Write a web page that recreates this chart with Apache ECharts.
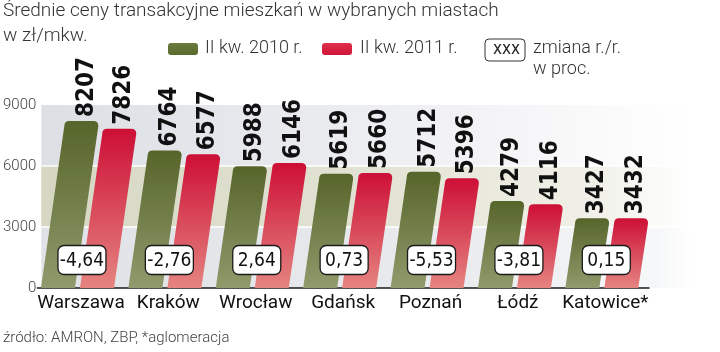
<!DOCTYPE html>
<html>
<head>
<meta charset="utf-8">
<script src="https://cdn.jsdelivr.net/npm/echarts@6/dist/echarts.min.js"></script>
<style>
  html, body { margin: 0; padding: 0; background: #fff; }
  #main { width: 720px; height: 352px; }
</style>
</head>
<body>
<div id="main"></div>
<script>
// dane
var cities = ['Warszawa', 'Kraków', 'Wrocław', 'Gdańsk', 'Poznań', 'Łódź', 'Katowice*'];
var q2010 = [8207, 6764, 5988, 5619, 5712, 4279, 3427];
var q2011 = [7826, 6577, 6146, 5660, 5396, 4116, 3432];
var change = [-4.64, -2.76, 2.64, 0.73, -5.53, -3.81, 0.15];
var yTicks = [0, 3000, 6000, 9000];

var narrow = "'Liberation Sans Narrow', 'DejaVu Sans Condensed', Roboto, sans-serif";
var light = "Roboto, 'Noto Sans', sans-serif";

var SLANT = 0.14, BAR_W = 34;

function hGrad(stops) {
    return {
        type: 'linear', x: 0, y: 0, x2: 1, y2: 0,
        colorStops: stops.map(function (s) { return { offset: s[0], color: s[1] }; })
    };
}
function vGrad(top, bottom) {
    return {
        type: 'linear', x: 0, y: 0, x2: 0, y2: 1,
        colorStops: [{ offset: 0, color: top }, { offset: 1, color: bottom }]
    };
}

// tło w pasach 0-3000-6000-9000
function renderBg(params, api) {
    var cs = params.coordSys;
    var x0 = cs.x + 4, x1 = cs.x + cs.width + 42;
    var ys = yTicks.map(function (v) { return api.coord([0, v])[1]; });
    var bandColors = [
        hGrad([[0, '#dfe2e6'], [0.6, '#e8eaed'], [0.95, '#f6f7f8'], [1, '#ffffff']]),
        hGrad([[0, '#d6d7c3'], [0.5, '#e2e2d3'], [0.85, '#f0f0e8'], [1, '#ffffff']]),
        hGrad([[0, '#dcdfe4'], [0.4, '#e8eaee'], [0.75, '#f6f6f8'], [1, '#ffffff']])
    ];
    var children = [];
    for (var i = 0; i < 3; i++) {
        children.push({
            type: 'rect',
            shape: { x: x0, y: ys[i + 1], width: x1 - x0, height: ys[i] - ys[i + 1] },
            style: { fill: bandColors[i] }
        });
    }
    for (var j = 1; j < 3; j++) {
        children.push({
            type: 'line',
            shape: { x1: x0, y1: ys[j], x2: x1, y2: ys[j] },
            style: { stroke: '#ffffff', lineWidth: 1.5 }
        });
    }
    return { type: 'group', children: children };
}

// pochylony słupek z zaokrąglonym wierzchołkiem
function barRenderer(offset, colTop, colBottom) {
    return function (params, api) {
        var base = api.coord([api.value(0), 0]);
        var top = api.coord([api.value(0), api.value(1)]);
        var by = base[1], ty = top[1];
        var shift = (by - ty) * SLANT;
        var x0 = base[0] + offset;
        var r = 5;
        var tl = x0 + shift, tr = x0 + shift + BAR_W;
        var d = 'M' + x0 + ',' + by +
            'L' + tl + ',' + (ty + r) +
            'Q' + tl + ',' + ty + ',' + (tl + r) + ',' + ty +
            'L' + (tr - r) + ',' + ty +
            'Q' + tr + ',' + ty + ',' + tr + ',' + (ty + r) +
            'L' + (x0 + BAR_W) + ',' + by + 'Z';
        var cx = tl + BAR_W / 2 + 5;
        return {
            type: 'group',
            children: [{
                type: 'path',
                shape: { pathData: d, x: x0, y: ty, width: tr - x0, height: by - ty, layout: 'cover' },
                style: { fill: vGrad(colTop, colBottom) }
            }, {
                type: 'text',
                x: cx, y: ty - 4,
                rotation: Math.PI / 2,
                style: {
                    text: String(api.value(1)),
                    x: 0, y: 0,
                    align: 'left', verticalAlign: 'middle',
                    font: 'bold 24px ' + narrow,
                    fill: '#111'
                }
            }]
        };
    };
}

// ramka ze zmianą r/r
function renderBox(params, api) {
    var base = api.coord([api.value(0), 0]);
    var cx = base[0] + 1, cy = base[1] - 28;
    var w = 48, h = 29;
    var txt = change[params.dataIndex].toFixed(2).replace('.', ',');
    return {
        type: 'group',
        children: [{
            type: 'rect',
            shape: { x: cx - w / 2, y: cy - h / 2, width: w, height: h, r: 6 },
            style: { fill: '#ffffff', stroke: '#1a1a1a', lineWidth: 1.3 }
        }, {
            type: 'text',
            style: {
                text: txt, x: cx, y: cy + 1,
                align: 'center', verticalAlign: 'middle',
                font: '19px ' + narrow, fill: '#111'
            }
        }]
    };
}

var chart = echarts.init(document.getElementById('main'));
var option = {
    animation: false,
    grid: { left: 33, right: 71, top: 105, bottom: 64 },
    xAxis: {
        type: 'category',
        data: cities,
        axisLine: { lineStyle: { color: '#1a1a1a', width: 1.5 } },
        axisTick: { show: false },
        axisLabel: { interval: 0, color: '#111', fontFamily: light, fontSize: 19, margin: 6 }
    },
    yAxis: {
        type: 'value',
        min: 0, max: 9000, interval: 3000,
        axisLine: { show: false },
        axisTick: { show: false },
        splitLine: { show: false },
        axisLabel: {
            color: '#444', fontFamily: light, fontWeight: 300, fontSize: 15, margin: 1,
            formatter: function (v) { return String(v); }
        }
    },
    graphic: [
        { type: 'text', left: 3, top: 2, style: { text: 'Średnie ceny transakcyjne mieszkań w wybranych miastach', font: '300 19px ' + light, fill: '#333' } },
        { type: 'text', left: 3, top: 27, style: { text: 'w zł/mkw.', font: '300 19px ' + light, fill: '#333' } },
        { type: 'rect', shape: { x: 168, y: 43, width: 30, height: 12, r: 3 }, style: { fill: vGrad('#6b7a3e', '#5a6a2c') } },
        { type: 'text', left: 205, top: 39, style: { text: 'II kw. 2010 r.', font: '300 18px ' + light, fill: '#333' } },
        { type: 'rect', shape: { x: 322, y: 43, width: 30, height: 12, r: 3 }, style: { fill: vGrad('#e0304c', '#cf1438') } },
        { type: 'text', left: 360, top: 39, style: { text: 'II kw. 2011 r.', font: '300 18px ' + light, fill: '#333' } },
        { type: 'rect', shape: { x: 485, y: 39, width: 40, height: 22, r: 4 }, style: { fill: '#fff', stroke: '#333', lineWidth: 1 } },
        { type: 'text', left: 493, top: 41, style: { text: 'xxx', font: '17px ' + narrow, fill: '#222' } },
        { type: 'text', left: 533, top: 39, style: { text: 'zmiana r./r.', font: '300 18px ' + light, fill: '#333' } },
        { type: 'text', left: 533, top: 60, style: { text: 'w proc.', font: '300 18px ' + light, fill: '#333' } },
        { type: 'text', left: 3, top: 331, style: { text: 'źródło: AMRON, ZBP, *aglomeracja', font: '300 15px ' + light, fill: '#444' } }
    ],
    series: [{
        type: 'custom',
        name: 'bg',
        silent: true,
        z: 0,
        renderItem: renderBg,
        data: [[0, 0]]
    }, {
        type: 'custom',
        name: 'II kw. 2010 r.',
        z: 2,
        renderItem: barRenderer(-40, '#56652a', '#909a6c'),
        data: q2010.map(function (v, i) { return [i, v]; })
    }, {
        type: 'custom',
        name: 'II kw. 2011 r.',
        z: 2,
        renderItem: barRenderer(-1, '#cd0f36', '#e58480'),
        data: q2011.map(function (v, i) { return [i, v]; })
    }, {
        type: 'custom',
        name: 'zmiana',
        z: 3,
        renderItem: renderBox,
        data: change.map(function (v, i) { return [i, v]; })
    }]
};
chart.setOption(option);
</script>
</body>
</html>
